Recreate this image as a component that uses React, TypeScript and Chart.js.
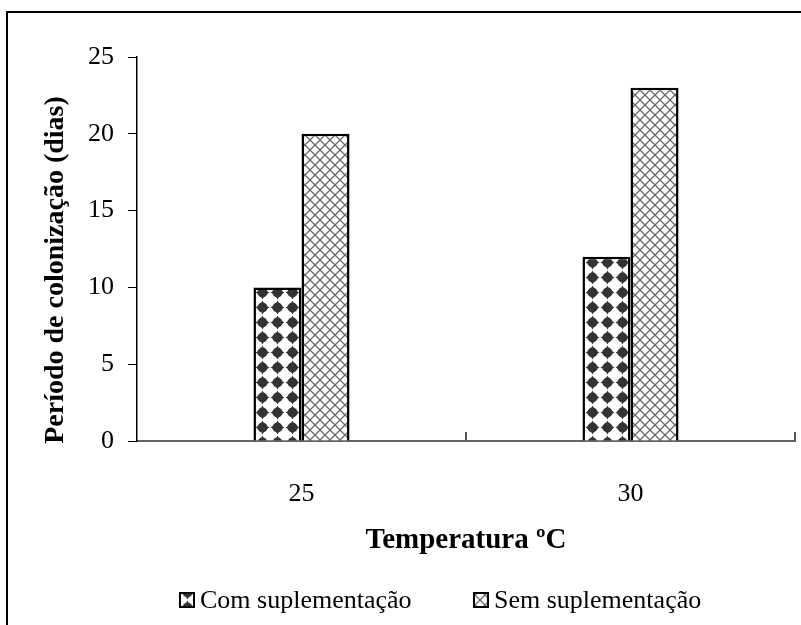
import React, { useEffect, useRef } from "react";
import { Chart, registerables } from "chart.js";

Chart.register(...registerables);

const categories = ["25", "30"];
const comSuplementacao = [10, 12];
const semSuplementacao = [20, 23];
const seriesLabels = ["Com suplementação", "Sem suplementação"];
const yTicks = [0, 5, 10, 15, 20, 25];
const xTitle = "Temperatura ºC";
const yTitle = "Período de colonização (dias)";

const FONT = '"Liberation Serif", "Times New Roman", serif';

function diamondPattern(ctx: CanvasRenderingContext2D) {
  const c = document.createElement("canvas");
  c.width = 15;
  c.height = 15;
  const g = c.getContext("2d")!;
  g.fillStyle = "#fff";
  g.fillRect(0, 0, 15, 15);
  g.fillStyle = "#333";
  g.beginPath();
  g.moveTo(7.5, 0.5);
  g.quadraticCurveTo(9.4, 5.6, 14.5, 7.5);
  g.quadraticCurveTo(9.4, 9.4, 7.5, 14.5);
  g.quadraticCurveTo(5.6, 9.4, 0.5, 7.5);
  g.quadraticCurveTo(5.6, 5.6, 7.5, 0.5);
  g.closePath();
  g.fill();
  g.beginPath();
  g.arc(7.5, 7.5, 5, 0, Math.PI * 2);
  g.fill();
  return ctx.createPattern(c, "repeat")!;
}

function crossPattern(ctx: CanvasRenderingContext2D) {
  const c = document.createElement("canvas");
  c.width = 10;
  c.height = 10;
  const g = c.getContext("2d")!;
  g.fillStyle = "#fff";
  g.fillRect(0, 0, 10, 10);
  g.strokeStyle = "#6a6a6a";
  g.lineWidth = 1.3;
  g.beginPath();
  g.moveTo(-1, -1);
  g.lineTo(11, 11);
  g.moveTo(11, -1);
  g.lineTo(-1, 11);
  g.stroke();
  return ctx.createPattern(c, "repeat")!;
}

const extrasPlugin = {
  id: "extras",
  afterDraw(chart: any) {
    const ctx: CanvasRenderingContext2D = chart.ctx;
    const xs = chart.scales.x;
    const area = chart.chartArea;
    ctx.save();
    // outer frame
    ctx.fillStyle = "#000";
    ctx.fillRect(6, 11, 2, chart.height - 11);
    ctx.fillRect(6, 11, chart.width - 6, 2);
    // inward tick marks on x axis at category boundaries
    const n = categories.length;
    ctx.strokeStyle = "#555";
    ctx.lineWidth = 2;
    for (let i = 1; i <= n; i++) {
      const x = Math.round(xs.left + (xs.width / n) * i);
      ctx.beginPath();
      ctx.moveTo(x, area.bottom);
      ctx.lineTo(x, area.bottom - 9);
      ctx.stroke();
    }
    // y title
    ctx.fillStyle = "#000";
    ctx.font = "bold 28px " + FONT;
    ctx.textAlign = "center";
    ctx.textBaseline = "middle";
    ctx.translate(56, 270);
    ctx.rotate(-Math.PI / 2);
    ctx.fillText(yTitle, 0, 0);
    ctx.restore();

    // legend
    ctx.save();
    ctx.font = "26px " + FONT;
    ctx.textBaseline = "middle";
    ctx.textAlign = "left";
    const starts = [180, 474];
    chart.data.datasets.forEach((ds: any, i: number) => {
      const bx = starts[i];
      const by = 593;
      ctx.fillStyle = ds.backgroundColor;
      ctx.fillRect(bx, by, 14, 14);
      ctx.strokeStyle = "#000";
      ctx.lineWidth = 2;
      ctx.strokeRect(bx, by, 14, 14);
      ctx.fillStyle = "#000";
      ctx.fillText(ds.label, bx + 20, 601);
    });
    ctx.restore();
  },
};

export default function App() {
  const ref = useRef<HTMLCanvasElement>(null);
  useEffect(() => {
    const canvas = ref.current!;
    const ctx = canvas.getContext("2d")!;
    const chart = new Chart(ctx, {
      type: "bar",
      data: {
        labels: categories,
        datasets: [
          {
            label: seriesLabels[0],
            data: comSuplementacao,
            backgroundColor: diamondPattern(ctx) as any,
            borderColor: "#000",
            borderWidth: 2.5,
            borderSkipped: "bottom",
            categoryPercentage: 0.292,
            barPercentage: 1,
          },
          {
            label: seriesLabels[1],
            data: semSuplementacao,
            backgroundColor: crossPattern(ctx) as any,
            borderColor: "#000",
            borderWidth: 2.5,
            borderSkipped: "bottom",
            categoryPercentage: 0.292,
            barPercentage: 1,
          },
        ],
      },
      options: {
        responsive: false,
        animation: false,
        layout: { padding: { left: 0, right: 6, top: 57, bottom: 0 } },
        plugins: {
          legend: { display: false },
          tooltip: { enabled: false },
        },
        scales: {
          x: {
            offset: true,
            grid: { display: false, drawTicks: false },
            border: { display: true, color: "#666", width: 2 },
            ticks: { color: "#000", font: { family: FONT, size: 26 }, padding: 38 },
            title: {
              display: true,
              text: xTitle,
              color: "#000",
              font: { family: FONT, size: 29, weight: "bold" },
              padding: { top: 0, bottom: 67 },
            },
            afterFit: (s: any) => {
              s.height = 184;
            },
          },
          y: {
            min: 0,
            max: 25,
            grid: { drawOnChartArea: false, drawTicks: true, tickLength: 9, color: "#000" },
            border: { display: true, color: "#000", width: 1.5 },
            ticks: { color: "#000", font: { family: FONT, size: 26 }, padding: 14 },
            afterBuildTicks: (s: any) => {
              s.ticks = yTicks.map((v) => ({ value: v }));
            },
            afterFit: (s: any) => {
              s.width = 137;
            },
          },
        },
      },
      plugins: [extrasPlugin],
    });
    return () => chart.destroy();
  }, []);
  return (
    <div style={{ position: "absolute", left: 0, top: 0, width: 801, height: 625, background: "#fff" }}>
      <canvas ref={ref} width={801} height={625} />
    </div>
  );
}
